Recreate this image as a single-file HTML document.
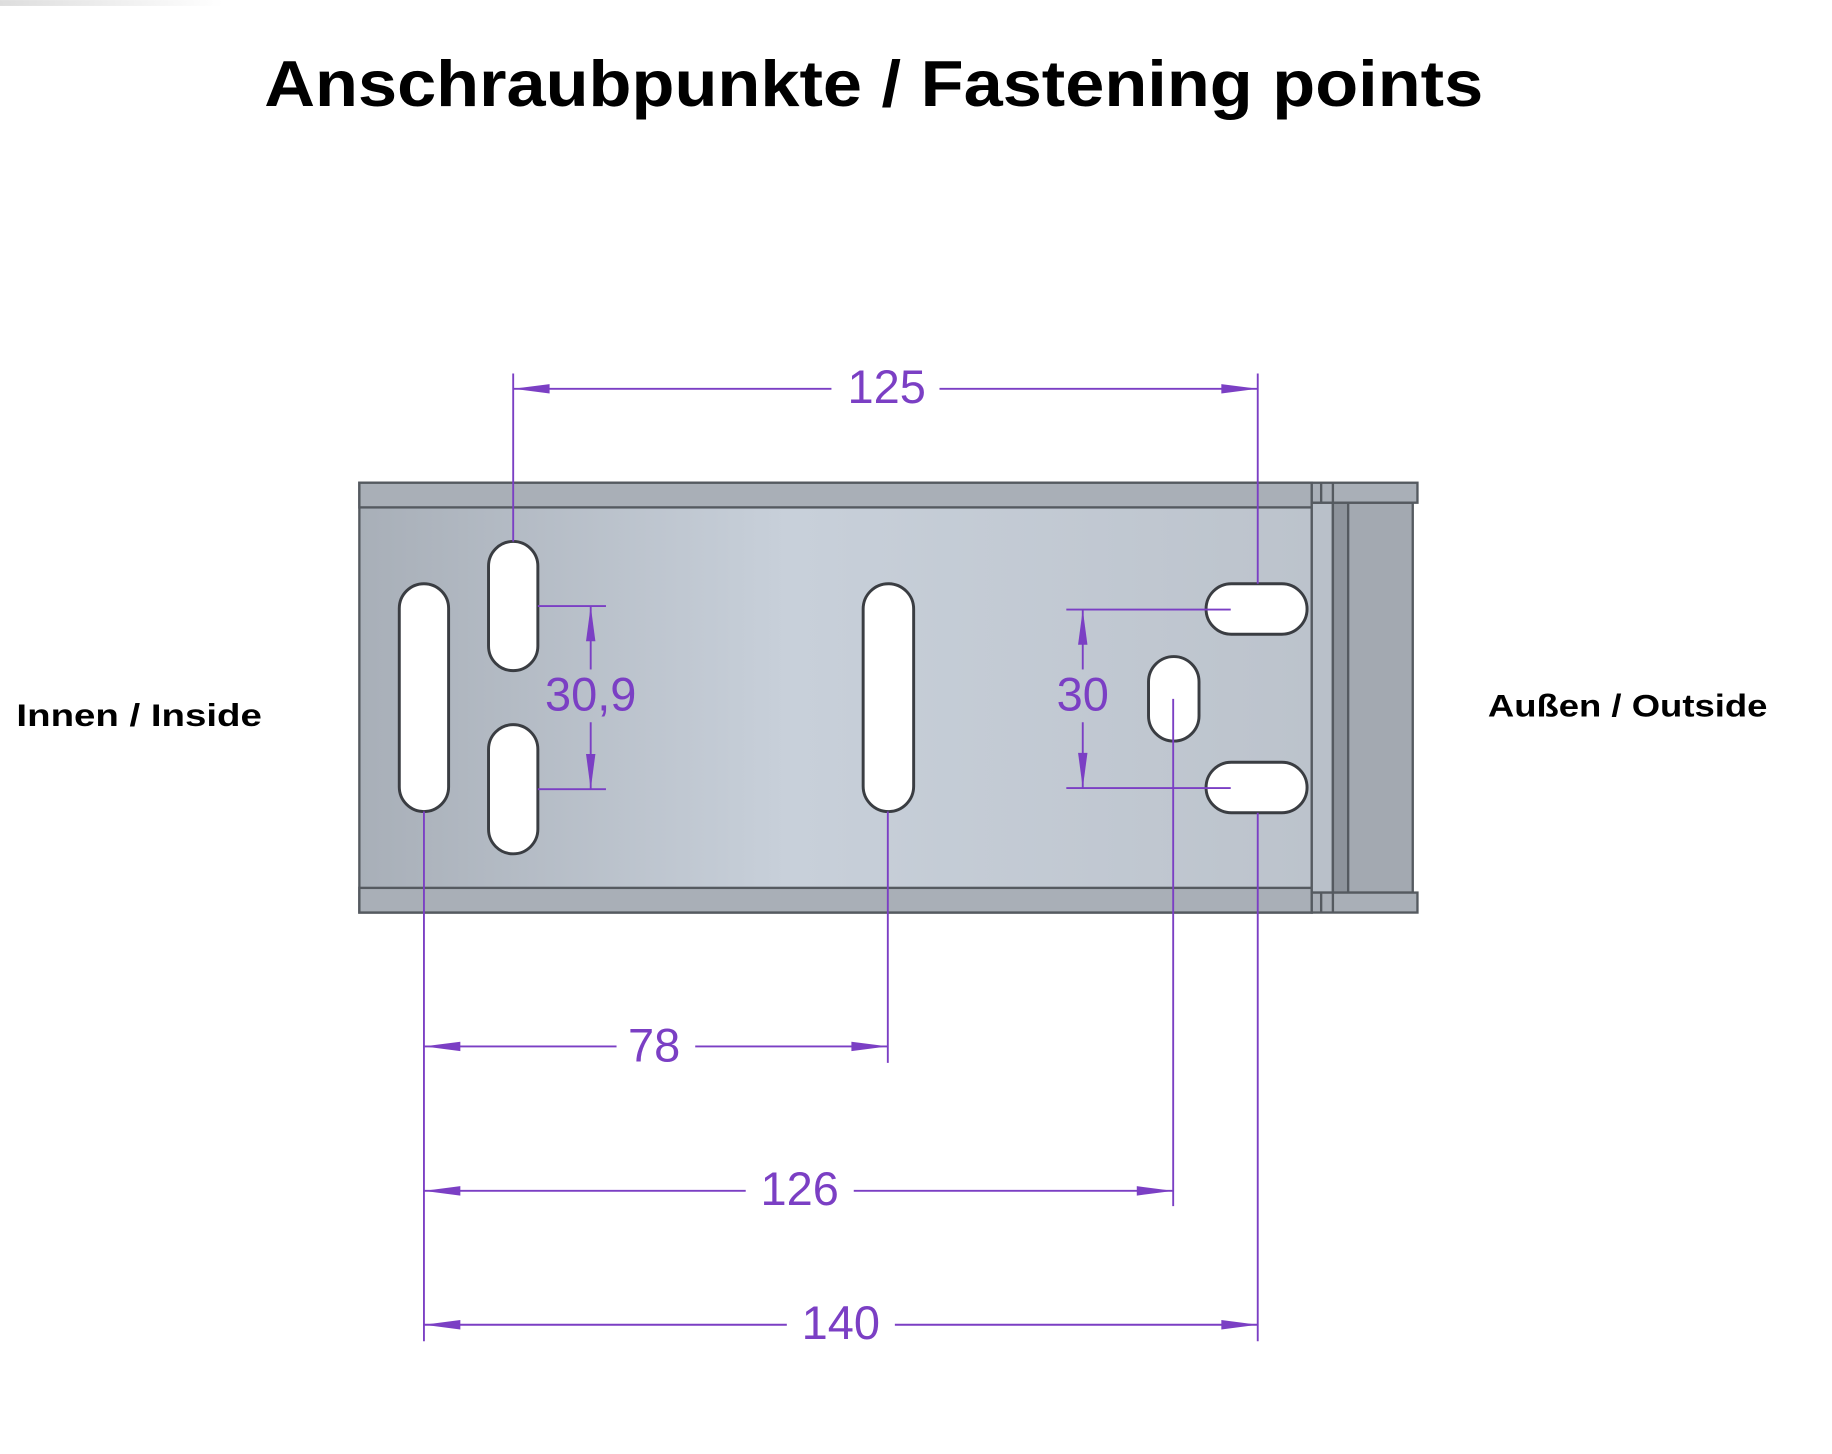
<!DOCTYPE html>
<html><head><meta charset="utf-8"><style>
html,body{margin:0;padding:0;background:#fff;}
svg{display:block;}
</style></head><body>
<svg width="1832" height="1454" viewBox="0 0 1560 1238" xmlns="http://www.w3.org/2000/svg">
<defs>
<linearGradient id="plate" x1="0" x2="1" y1="0" y2="0">
<stop offset="0" stop-color="#a8afb8"/>
<stop offset="0.45" stop-color="#c8d0da"/>
<stop offset="1" stop-color="#bcc3cc"/>
</linearGradient>
<linearGradient id="shadow" x1="0" x2="1"><stop offset="0" stop-color="#ddd"/><stop offset="1" stop-color="#fff"/></linearGradient>
</defs>
<rect x="0" y="0" width="190" height="5" fill="url(#shadow)"/>
<text x="225" y="90" textLength="1038" lengthAdjust="spacingAndGlyphs" font-family="'Liberation Sans',sans-serif" font-weight="bold" font-size="55" fill="#000">Anschraubpunkte / Fastening points</text>
<text x="14" y="618" textLength="209" lengthAdjust="spacingAndGlyphs" font-family="'Liberation Sans',sans-serif" font-weight="bold" font-size="27" fill="#000">Innen / Inside</text>
<text x="1267" y="610" textLength="238" lengthAdjust="spacingAndGlyphs" font-family="'Liberation Sans',sans-serif" font-weight="bold" font-size="27" fill="#000">Außen / Outside</text>

<g stroke="#555a60" stroke-width="2">
<rect x="306" y="411" width="811" height="366" fill="url(#plate)"/>
<rect x="306" y="411" width="811" height="21" fill="#a9afb7"/>
<rect x="306" y="756" width="811" height="21" fill="#a9afb7"/>
<rect x="1117" y="428" width="18" height="332" fill="#b9c0c9"/>
<rect x="1135" y="428" width="13" height="332" fill="#8d939b"/>
<rect x="1148" y="428" width="55" height="332" fill="#a3a9b1"/>
<rect x="1117" y="411" width="90" height="17" fill="#a9afb7"/>
<rect x="1117" y="760" width="90" height="17" fill="#a9afb7"/>
<line x1="1125" y1="411" x2="1125" y2="428"/><line x1="1135" y1="411" x2="1135" y2="428"/>
<line x1="1125" y1="760" x2="1125" y2="777"/><line x1="1135" y1="760" x2="1135" y2="777"/>
</g>
<g fill="#fff" stroke="#3a3d42" stroke-width="2.5">
<rect x="340" y="497" width="42" height="194" rx="21"/>
<rect x="416" y="461" width="42" height="110" rx="21"/>
<rect x="416" y="617" width="42" height="110" rx="21"/>
<rect x="735" y="497" width="43" height="194" rx="21.5"/>
<rect x="1027" y="497" width="86" height="43" rx="21.5"/>
<rect x="1027" y="649" width="86" height="43" rx="21.5"/>
<rect x="978" y="559" width="43" height="72" rx="21.5"/>
</g>

<g stroke="#7b3fc4" stroke-width="1.6" fill="none">
<line x1="437" y1="318" x2="437" y2="461"/>
<line x1="1071" y1="318" x2="1071" y2="497"/>
<line x1="437" y1="331" x2="708" y2="331"/><line x1="800" y1="331" x2="1071" y2="331"/>
<line x1="458" y1="516" x2="516" y2="516"/><line x1="458" y1="672" x2="516" y2="672"/>
<line x1="503" y1="516" x2="503" y2="570"/><line x1="503" y1="615" x2="503" y2="672"/>
<line x1="908" y1="519" x2="1048" y2="519"/><line x1="908" y1="671" x2="1048" y2="671"/>
<line x1="922" y1="519" x2="922" y2="570"/><line x1="922" y1="615" x2="922" y2="671"/>
<line x1="361" y1="691" x2="361" y2="1142"/>
<line x1="756" y1="691" x2="756" y2="905"/>
<line x1="999" y1="595" x2="999" y2="1027"/>
<line x1="1071" y1="692" x2="1071" y2="1142"/>
<line x1="361" y1="891" x2="525" y2="891"/><line x1="592" y1="891" x2="756" y2="891"/>
<line x1="361" y1="1014" x2="635" y2="1014"/><line x1="727" y1="1014" x2="999" y2="1014"/>
<line x1="361" y1="1128" x2="670" y2="1128"/><line x1="762" y1="1128" x2="1071" y2="1128"/>
</g>
<g fill="#7b3fc4">
<polygon points="437,331 468,327 468,335"/><polygon points="1071,331 1040,327 1040,335"/>
<polygon points="503,516 499,546 507,546"/><polygon points="503,672 499,642 507,642"/>
<polygon points="922,519 918,549 926,549"/><polygon points="922,671 918,641 926,641"/>
<polygon points="361,891 392,887 392,895"/><polygon points="756,891 725,887 725,895"/>
<polygon points="361,1014 392,1010 392,1018"/><polygon points="999,1014 968,1010 968,1018"/>
<polygon points="361,1128 392,1124 392,1132"/><polygon points="1071,1128 1040,1124 1040,1132"/>
</g>
<g font-family="'Liberation Sans',sans-serif" font-size="40" fill="#7b3fc4" text-anchor="middle">
<text x="755" y="343">125</text>
<text x="503" y="605">30,9</text>
<text x="922" y="605">30</text>
<text x="557" y="904">78</text>
<text x="681" y="1026">126</text>
<text x="716" y="1140">140</text>
</g>
</svg>
</body></html>
